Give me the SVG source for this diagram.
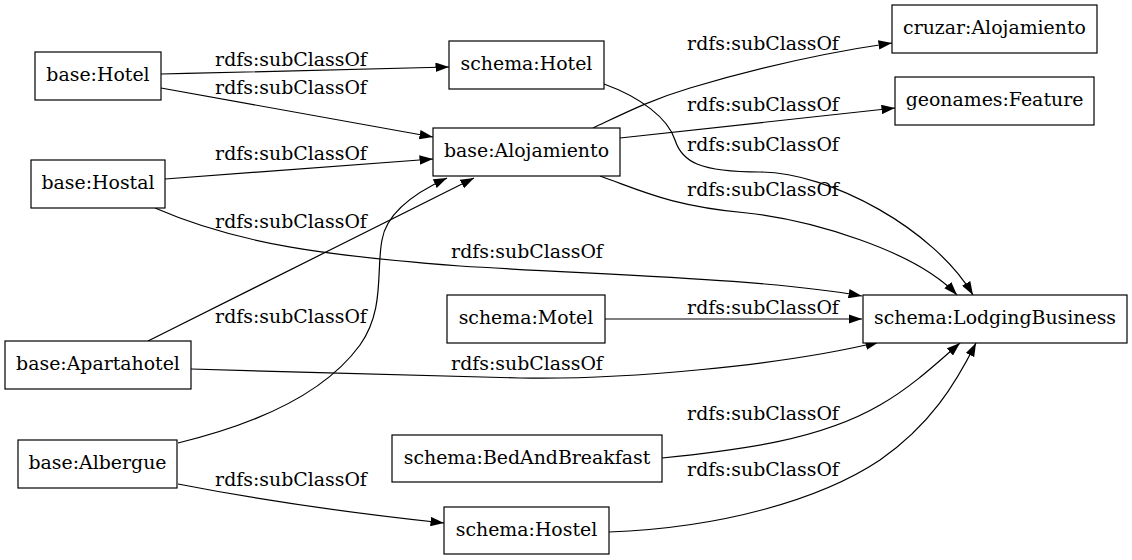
<svg xmlns="http://www.w3.org/2000/svg" width="1132" height="560" viewBox="0 0 1132 560">
<style>
text{font-family:"DejaVu Serif","Liberation Serif",serif;font-size:18.9px;fill:#000;text-anchor:middle}
.node rect{fill:#fff;stroke:#000;stroke-width:1.2}
#edges path{fill:none;stroke:#000;stroke-width:1.2;marker-end:url(#arr)}
</style>
<defs>
<marker id="arr" viewBox="0 0 10 7" refX="10" refY="3.5" markerWidth="13.5" markerHeight="9.5" markerUnits="userSpaceOnUse" orient="auto">
<path d="M0,0 L10,3.5 L0,7 z" fill="#000"/>
</marker>
</defs>
<rect width="1132" height="560" fill="#fff"/>
<g id="edges">
<path d="M161,74 C260,72 360,69 449,67"/>
<path d="M161,88 L433,137"/>
<path d="M165,179 L433,159"/>
<path d="M155,208 C240,245 330,256 460,266 C600,275 760,278 862,296"/>
<path d="M148,341 L474,178"/>
<path d="M191,369 C300,372 420,376 520,378 C620,380 780,366 879,342"/>
<path d="M178,443 C240,428 320,400 360,345 C385,310 376,270 382,240 C386,215 410,195 447,178"/>
<path d="M178,484 C260,500 350,513 444,523"/>
<path d="M604,84 C640,97 668,118 675,140 C682,162 700,172 760,172 C830,172 935,230 973,295"/>
<path d="M593,128 C625,113 650,100 690,88 C760,67 830,52 892,43"/>
<path d="M620,138 L895,108"/>
<path d="M600,176 C640,190 670,206 747,213 C810,220 915,250 957,295"/>
<path d="M605,319 L862,319"/>
<path d="M662,458 C740,450 820,440 880,405 C910,388 935,365 960,343"/>
<path d="M609,532 C720,528 820,500 880,460 C930,425 955,385 976,343"/>
<g id="edge-labels">
<text x="291" y="66">rdfs:subClassOf</text>
<text x="291" y="94">rdfs:subClassOf</text>
<text x="291" y="160">rdfs:subClassOf</text>
<text x="291" y="228">rdfs:subClassOf</text>
<text x="291" y="323">rdfs:subClassOf</text>
<text x="291" y="486">rdfs:subClassOf</text>
<text x="527" y="258">rdfs:subClassOf</text>
<text x="527" y="370">rdfs:subClassOf</text>
<text x="763" y="50">rdfs:subClassOf</text>
<text x="763" y="111">rdfs:subClassOf</text>
<text x="763" y="151">rdfs:subClassOf</text>
<text x="763" y="196">rdfs:subClassOf</text>
<text x="763" y="314">rdfs:subClassOf</text>
<text x="763" y="420">rdfs:subClassOf</text>
<text x="763" y="476">rdfs:subClassOf</text>
</g>
</g>
<g id="n-base-hotel" class="node"><rect x="35" y="52" width="126" height="48"/><text x="98" y="81">base:Hotel</text></g>
<g id="n-schema-hotel" class="node"><rect x="449" y="41" width="155" height="48"/><text x="526.5" y="70">schema:Hotel</text></g>
<g id="n-base-alojamiento" class="node"><rect x="433" y="128" width="187" height="48"/><text x="526.5" y="157">base:Alojamiento</text></g>
<g id="n-cruzar-alojamiento" class="node"><rect x="892" y="5" width="205" height="48"/><text x="994.5" y="34">cruzar:Alojamiento</text></g>
<g id="n-geonames-feature" class="node"><rect x="895" y="77" width="199" height="48"/><text x="994.5" y="106">geonames:Feature</text></g>
<g id="n-base-hostal" class="node"><rect x="31" y="160" width="134" height="48"/><text x="98" y="189">base:Hostal</text></g>
<g id="n-schema-lodgingbusiness" class="node"><rect x="863" y="295" width="264" height="48"/><text x="995" y="324">schema:LodgingBusiness</text></g>
<g id="n-schema-motel" class="node"><rect x="447" y="295" width="158" height="48"/><text x="526" y="324">schema:Motel</text></g>
<g id="n-base-apartahotel" class="node"><rect x="5" y="341" width="186" height="48"/><text x="98" y="370">base:Apartahotel</text></g>
<g id="n-base-albergue" class="node"><rect x="18" y="440" width="159" height="48"/><text x="97.5" y="469">base:Albergue</text></g>
<g id="n-schema-bedandbreakfast" class="node"><rect x="392" y="435" width="270" height="47"/><text x="527" y="464">schema:BedAndBreakfast</text></g>
<g id="n-schema-hostel" class="node"><rect x="444" y="507" width="165" height="47"/><text x="526.5" y="536">schema:Hostel</text></g>
</svg>
